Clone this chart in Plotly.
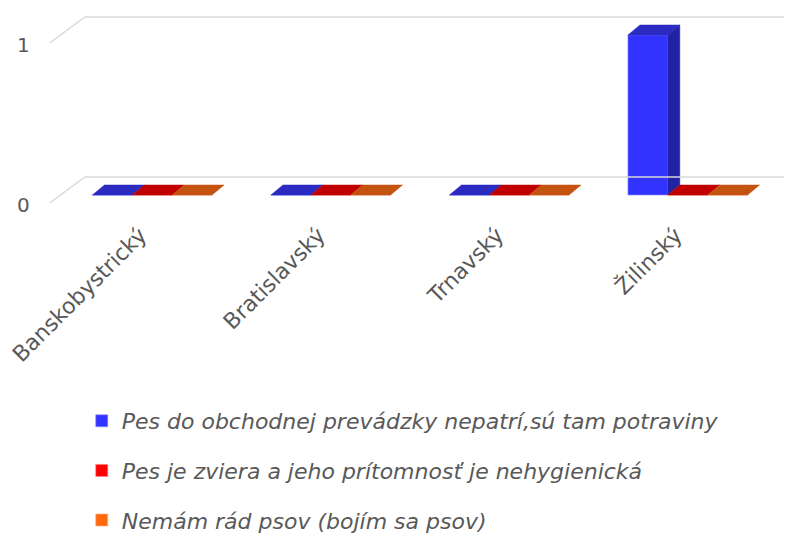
import plotly.graph_objects as go

# ---------------- data ----------------
categories = ["Banskobystrický", "Bratislavský", "Trnavský", "Žilinský"]
series_names = [
    "Pes do obchodnej prevádzky nepatrí,sú tam potraviny",
    "Pes je zviera a jeho prítomnosť je nehygienická",
    "Nemám rád psov (bojím sa psov)",
]
values_pes_nepatri = [0, 0, 0, 1]
values_nehygienicka = [0, 0, 0, 0]
values_nemam_rad = [0, 0, 0, 0]
y_tick_values = [0, 1]

# ---------------- style ----------------
front_colors = ["#3333FF", "#FF0000", "#FF6A10"]
top_colors = ["#2B2BC2", "#C00000", "#C55310"]
side_colors = ["#2222A4", "#A00000", "#A84A0E"]
edge_colors = ["#8C8CFF", "#FF8080", "#FFB080"]
text_color = "#595959"
grid_color = "#D9D9D9"
FONT = "DejaVu Sans"

PAGE_OFF = 8                      # browser body margin
W, H = 792 - PAGE_OFF, 535 - PAGE_OFF


def fx(px):   # screen px -> figure px
    return px - PAGE_OFF


# plot area in screen pixels
PL, PR, PT, PB = 63.25, 777.25, 11, 215
ML, MR, MT = fx(PL), W - fx(PR), fx(PT)
MB = H - fx(PB)
PW = PR - PL
PH = PB - PT
Y0_PIX = 195      # screen y of value 0 (front of bars)
PX_PER_VAL = 160
YR = [-(PB - Y0_PIX) / PX_PER_VAL, (Y0_PIX - PT) / PX_PER_VAL]
XR = [-0.5, 3.5]

GROUP = 0.67          # 1 - bargap
NS = 3
BW = GROUP / NS
px_per_cat = PW / (XR[1] - XR[0])
DX = 12 / px_per_cat  # depth offset in category units
DY = 10 / PX_PER_VAL  # depth offset in value units


def ypix(v):
    return Y0_PIX - v * PX_PER_VAL


def paper_x(px):
    return (px - PL) / PW


def paper_y(py):
    return (PB - py) / PH


all_values = [values_pes_nepatri, values_nehygienicka, values_nemam_rad]
xs = list(range(len(categories)))

fig = go.Figure()

for k, (name, vals) in enumerate(zip(series_names, all_values)):
    fig.add_trace(go.Bar(
        x=xs, y=vals, name=name,
        marker=dict(color=front_colors[k], line=dict(color=edge_colors[k], width=0.6)),
        legendgroup=f"g{k}", hoverinfo="skip",
    ))

# 3D faces (top and side) derived from the data
for k, vals in enumerate(all_values):
    tx, ty, sx, sy = [], [], [], []
    for i, v in enumerate(vals):
        x0 = i - GROUP / 2 + k * BW
        x1 = x0 + BW
        tx += [x0, x1, x1 + DX, x0 + DX, x0, None]
        ty += [v, v, v + DY, v + DY, v, None]
        if v > 0:
            sx += [x1, x1 + DX, x1 + DX, x1, x1, None]
            sy += [0, DY, v + DY, v, 0, None]
    if sx:
        fig.add_trace(go.Scatter(x=sx, y=sy, mode="lines", fill="toself",
                                 fillcolor=side_colors[k], line=dict(width=0.5, color=side_colors[k]),
                                 showlegend=False, hoverinfo="skip"))
    fig.add_trace(go.Scatter(x=tx, y=ty, mode="lines", fill="toself",
                             fillcolor=top_colors[k], line=dict(width=0.5, color=top_colors[k]),
                             showlegend=False, hoverinfo="skip"))

# walls / gridlines (decorations)
shapes = []
front_x, back_x, end_x = 50, 85, 800
for v in y_tick_values:
    back_y = ypix(v) - 18
    front_y = ypix(v) + 8
    shapes.append(dict(type="line", xref="paper", yref="paper",
                       x0=paper_x(back_x), x1=paper_x(end_x),
                       y0=paper_y(back_y), y1=paper_y(back_y),
                       line=dict(color=grid_color, width=1.5)))
    shapes.append(dict(type="line", xref="paper", yref="paper",
                       x0=paper_x(front_x), x1=paper_x(back_x),
                       y0=paper_y(front_y), y1=paper_y(back_y),
                       line=dict(color=grid_color, width=1.5)))

annotations = []
for v in y_tick_values:
    annotations.append(dict(text=str(v), xref="paper", yref="paper",
                            x=paper_x(24), y=paper_y(ypix(v) + 10),
                            xanchor="center", yanchor="middle", showarrow=False,
                            font=dict(family=FONT, size=20, color=text_color)))

fig.update_layout(
    width=W, height=H,
    margin=dict(l=ML, r=MR, t=MT, b=MB, autoexpand=False),
    paper_bgcolor="white", plot_bgcolor="white",
    barmode="group", bargap=1 - GROUP, bargroupgap=0,
    shapes=shapes, annotations=annotations,
    xaxis=dict(range=XR, tickmode="array", tickvals=xs, ticktext=categories,
               tickangle=-45, showgrid=False, zeroline=False, showline=False, ticks="",
               automargin=False, ticklabelshift=-12, ticklabelstandoff=2,
               ticklabeloverflow="allow",
               tickfont=dict(family=FONT, size=22, color=text_color)),
    yaxis=dict(range=YR, showgrid=False, zeroline=False, showline=False,
               showticklabels=False, ticks="", automargin=False),
    legend=dict(orientation="v", x=paper_x(82), xanchor="left",
                y=paper_y(400), yanchor="top", tracegroupgap=18,
                font=dict(family=FONT, size=22, color=text_color, style="italic"),
                itemclick=False, itemdoubleclick=False),
    showlegend=True,
)

fig.write_html("out.html")
